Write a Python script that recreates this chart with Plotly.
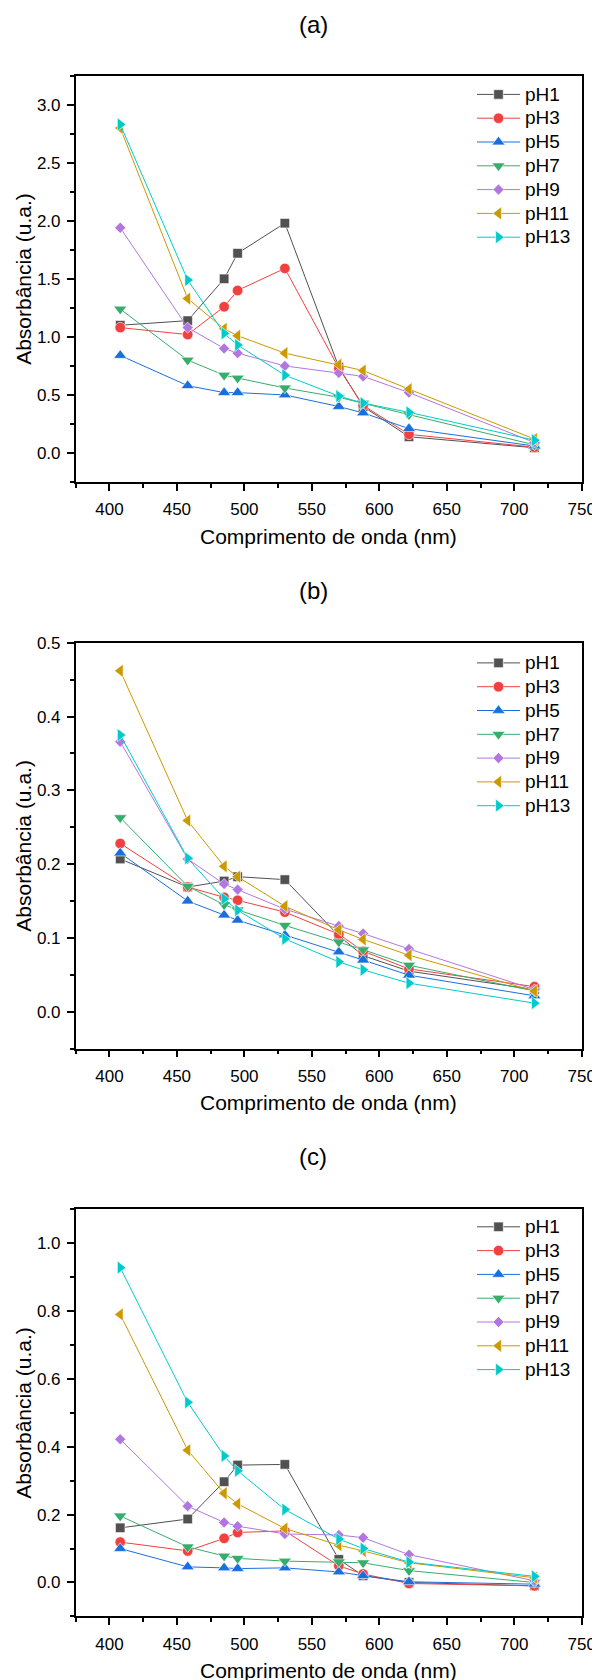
import plotly.graph_objects as go

wavelength = [408, 458, 485, 495, 530, 570, 588, 622, 715]
series_names = ["pH1", "pH3", "pH5", "pH7", "pH9", "pH11", "pH13"]
colors = ["#515151", "#F14040", "#1A6FDF", "#37AD6B", "#B177DE", "#CC9900", "#00CBCC"]
symbols = ["square", "circle", "triangle-up", "triangle-down", "diamond", "triangle-left", "triangle-right"]
marker_sizes = [9.5, 10.5, 11.5, 11.5, 8.5, 11.5, 11.5]

# Panel (a)
a_pH1 = [1.10, 1.14, 1.50, 1.72, 1.98, 0.74, 0.40, 0.14, 0.045]
a_pH3 = [1.08, 1.02, 1.26, 1.40, 1.59, 0.73, 0.41, 0.16, 0.05]
a_pH5 = [0.84, 0.58, 0.52, 0.52, 0.50, 0.40, 0.345, 0.21, 0.06]
a_pH7 = [1.24, 0.80, 0.67, 0.645, 0.56, 0.48, 0.43, 0.33, 0.07]
a_pH9 = [1.94, 1.08, 0.90, 0.86, 0.75, 0.69, 0.66, 0.52, 0.09]
a_pH11 = [2.80, 1.33, 1.07, 1.01, 0.86, 0.76, 0.71, 0.55, 0.12]
a_pH13 = [2.83, 1.49, 1.03, 0.93, 0.67, 0.49, 0.43, 0.35, 0.11]

# Panel (b)
b_pH1 = [0.207, 0.169, 0.177, 0.183, 0.179, 0.103, 0.076, 0.055, 0.030]
b_pH3 = [0.228, 0.169, 0.155, 0.151, 0.135, 0.105, 0.082, 0.058, 0.034]
b_pH5 = [0.215, 0.150, 0.131, 0.124, 0.104, 0.081, 0.070, 0.0495, 0.0215]
b_pH7 = [0.263, 0.170, 0.145, 0.138, 0.117, 0.0946, 0.084, 0.063, 0.028]
b_pH9 = [0.366, 0.207, 0.173, 0.1655, 0.139, 0.116, 0.106, 0.085, 0.030]
b_pH11 = [0.462, 0.259, 0.197, 0.183, 0.143, 0.111, 0.098, 0.0766, 0.028]
b_pH13 = [0.375, 0.208, 0.153, 0.1375, 0.0987, 0.0675, 0.0567, 0.0387, 0.0116]

# Panel (c)
c_pH1 = [0.161, 0.187, 0.297, 0.346, 0.348, 0.068, 0.020, 0.000, -0.010]
c_pH3 = [0.119, 0.093, 0.130, 0.1475, 0.152, 0.049, 0.025, -0.003, -0.010]
c_pH5 = [0.100, 0.046, 0.043, 0.041, 0.043, 0.031, 0.020, 0.002, -0.005]
c_pH7 = [0.196, 0.105, 0.078, 0.071, 0.063, 0.061, 0.058, 0.035, 0.000]
c_pH9 = [0.422, 0.225, 0.177, 0.166, 0.143, 0.140, 0.132, 0.082, 0.005]
c_pH11 = [0.790, 0.390, 0.263, 0.232, 0.159, 0.110, 0.093, 0.058, 0.014]
c_pH13 = [0.928, 0.531, 0.373, 0.329, 0.215, 0.128, 0.100, 0.060, 0.018]

panel_titles = ["(a)", "(b)", "(c)"]
x_title = "Comprimento de onda (nm)"
y_title = "Absorbância (u.a.)"

panels = [
    [a_pH1, a_pH3, a_pH5, a_pH7, a_pH9, a_pH11, a_pH13],
    [b_pH1, b_pH3, b_pH5, b_pH7, b_pH9, b_pH11, b_pH13],
    [c_pH1, c_pH3, c_pH5, c_pH7, c_pH9, c_pH11, c_pH13],
]

# page offset (default body margin of the html page)
OFF = 8
W, H = 600 - OFF, 1680 - OFF
FONT = "Liberation Sans, Arial, sans-serif"

frames = [(75.7, 482.0), (642.8, 1048.6), (1209.3, 1616.4)]
legend_first = [94.0, 662.5, 1226.4]
title_centers = [24, 591, 1156]
x_left, x_right = 75.7, 581.7
y_ranges = [[-0.25, 3.25], [-0.05, 0.5], [-0.1, 1.1]]
y_dticks = [0.5, 0.1, 0.2]

fig = go.Figure()

for p, series in enumerate(panels):
    sfx = "" if p == 0 else str(p + 1)
    leg = "legend" if p == 0 else "legend" + str(p + 1)
    for i, vals in enumerate(series):
        fig.add_trace(go.Scatter(
            x=wavelength, y=vals,
            name="<span style='font-size:19px'>" + series_names[i] + "</span>",
            mode="lines+markers",
            line=dict(color=colors[i], width=1),
            marker=dict(symbol=symbols[i], color=colors[i], size=marker_sizes[i],
                        line=dict(color="white", width=0.6)),
            xaxis="x" + sfx, yaxis="y" + sfx, legend=leg,
        ))

layout = dict(
    width=W, height=H,
    margin=dict(l=0, r=0, t=0, b=0, autoexpand=False),
    paper_bgcolor="white", plot_bgcolor="white",
    font=dict(family=FONT, color="black", size=17),
    showlegend=True,
    annotations=[],
)

def px_x(v):
    return (v - OFF) / W

def px_y(v):
    return 1 - (v - OFF) / H

for p in range(3):
    sfx = "" if p == 0 else str(p + 1)
    top, bot = frames[p]
    xa = dict(
        domain=[px_x(x_left), px_x(x_right)], range=[375, 750],
        anchor="y" + sfx, showline=True, linecolor="black", linewidth=1.5,
        mirror=True, ticks="outside", ticklen=7, tickwidth=1.5, tickcolor="black",
        dtick=50, tick0=400, showgrid=False, zeroline=False, automargin=False,
        tickfont=dict(size=17, family=FONT),
        minor=dict(ticks="outside", ticklen=4, tickwidth=1.5, tickcolor="black", dtick=25, tick0=375, showgrid=False),
        ticklabelstandoff=4,
    )
    ya = dict(
        domain=[px_y(bot), px_y(top)], range=y_ranges[p],
        anchor="x" + sfx, showline=True, linecolor="black", linewidth=1.5,
        mirror=True, ticks="outside", ticklen=7, tickwidth=1.5, tickcolor="black",
        dtick=y_dticks[p], tick0=0, tickformat=".1f", showgrid=False, zeroline=False,
        automargin=False,
        tickfont=dict(size=17, family=FONT),
        minor=dict(ticks="outside", ticklen=4, tickwidth=1.5, tickcolor="black", dtick=y_dticks[p] / 2, showgrid=False),
        ticklabelstandoff=3,
    )
    layout["xaxis" + sfx] = xa
    layout["yaxis" + sfx] = ya

    leg_key = "legend" if p == 0 else "legend" + str(p + 1)
    layout[leg_key] = dict(
        x=px_x(472), y=px_y(legend_first[p] - 16.5), xanchor="left", yanchor="top",
        xref="paper", yref="paper",
        bgcolor="rgba(0,0,0,0)", borderwidth=0,
        font=dict(size=16, family=FONT), tracegroupgap=0, itemwidth=43,
    )

    layout["annotations"].append(dict(
        text=panel_titles[p], x=px_x(313), y=px_y(title_centers[p]),
        xref="paper", yref="paper", showarrow=False,
        xanchor="center", yanchor="middle", font=dict(size=24, family=FONT),
    ))
    layout["annotations"].append(dict(
        text=x_title, x=px_x((x_left + x_right) / 2), y=px_y(bot + 54),
        xref="paper", yref="paper", showarrow=False,
        xanchor="center", yanchor="middle", font=dict(size=21, family=FONT),
    ))
    layout["annotations"].append(dict(
        text=y_title, x=px_x(24), y=px_y((top + bot) / 2),
        xref="paper", yref="paper", showarrow=False, textangle=-90,
        xanchor="center", yanchor="middle", font=dict(size=21, family=FONT),
    ))

fig.update_layout(**layout)
fig.write_html("out.html")
